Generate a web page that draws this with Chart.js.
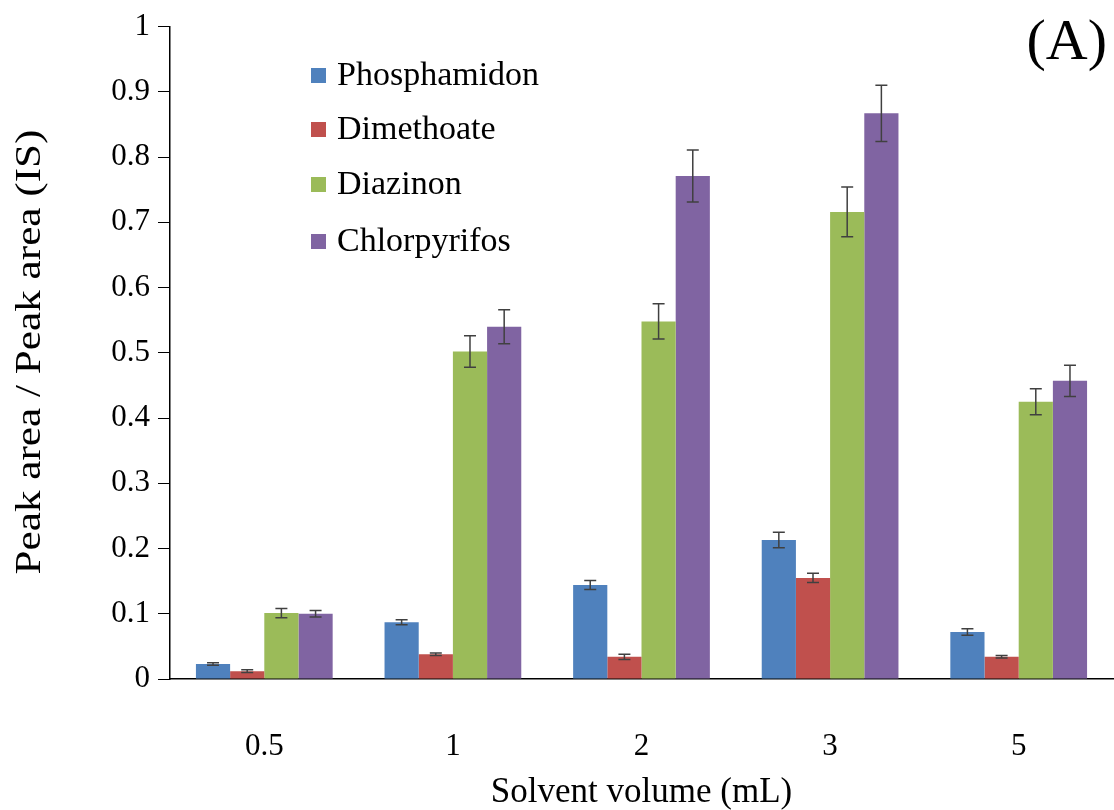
<!DOCTYPE html>
<html>
<head>
<meta charset="utf-8">
<script src="https://cdn.jsdelivr.net/npm/chart.js@4.4.1/dist/chart.umd.min.js"></script>
<style>
  html, body { margin: 0; padding: 0; background: #fff; }
</style>
</head>
<body>
<canvas id="chart" width="1114" height="810"></canvas>
<script>
const categories = ['0.5', '1', '2', '3', '5'];
const seriesNames = ['Phosphamidon', 'Dimethoate', 'Diazinon', 'Chlorpyrifos'];
const seriesColors = ['#4F81BD', '#C0504D', '#9BBB59', '#8064A2'];

const phosphamidon = [0.023, 0.087, 0.144, 0.213, 0.072];
const dimethoate = [0.012, 0.038, 0.034, 0.155, 0.034];
const diazinon = [0.101, 0.502, 0.548, 0.716, 0.425];
const chlorpyrifos = [0.100, 0.540, 0.771, 0.867, 0.457];

const phosphamidonErr = [0.002, 0.004, 0.007, 0.012, 0.005];
const dimethoateErr = [0.002, 0.002, 0.004, 0.007, 0.002];
const diazinonErr = [0.007, 0.024, 0.027, 0.038, 0.020];
const chlorpyrifosErr = [0.005, 0.026, 0.040, 0.043, 0.024];

const yTickLabels = ['0', '0.1', '0.2', '0.3', '0.4', '0.5', '0.6', '0.7', '0.8', '0.9', '1'];

const values = [phosphamidon, dimethoate, diazinon, chlorpyrifos];
const errors = [phosphamidonErr, dimethoateErr, diazinonErr, chlorpyrifosErr];

const serif = "'Liberation Serif', 'Times New Roman', serif";

const errorBars = {
  id: 'errorBars',
  afterDatasetsDraw(chart) {
    const {ctx} = chart;
    const y = chart.scales.y;
    ctx.save();
    ctx.strokeStyle = '#404040';
    ctx.lineWidth = 1.5;
    chart.data.datasets.forEach((ds, i) => {
      const meta = chart.getDatasetMeta(i);
      meta.data.forEach((bar, j) => {
        const v = ds.data[j], e = ds.errors[j];
        const top = y.getPixelForValue(v + e);
        const bot = y.getPixelForValue(v - e);
        ctx.beginPath();
        ctx.moveTo(bar.x, top); ctx.lineTo(bar.x, bot);
        ctx.moveTo(bar.x - 6, top); ctx.lineTo(bar.x + 6, top);
        ctx.moveTo(bar.x - 6, bot); ctx.lineTo(bar.x + 6, bot);
        ctx.stroke();
      });
    });
    ctx.restore();
  }
};

// legend inside the plot, the "(A)" tag and the (stretched) y title
const extras = {
  id: 'extras',
  afterDraw(chart) {
    const {ctx} = chart;
    ctx.save();
    ctx.textBaseline = 'middle';
    ctx.font = '34px ' + serif;
    const rows = [75, 129, 184, 241];
    seriesNames.forEach((name, i) => {
      ctx.fillStyle = seriesColors[i];
      ctx.fillRect(311, rows[i] - 7, 15, 15);
      ctx.fillStyle = '#000';
      ctx.textAlign = 'left';
      ctx.fillText(name, 337, rows[i] + 1);
    });
    ctx.font = '58px ' + serif;
    ctx.textAlign = 'right';
    ctx.fillText('(A)', 1107, 44);

    ctx.translate(31, 352);
    ctx.rotate(-Math.PI / 2);
    ctx.scale(1.2, 1);
    ctx.font = '36px ' + serif;
    ctx.textAlign = 'center';
    ctx.fillText('Peak area / Peak area (IS)', 0, 0);
    ctx.restore();
  }
};

new Chart(document.getElementById('chart'), {
  type: 'bar',
  data: {
    labels: categories,
    datasets: seriesNames.map((name, i) => ({
      label: name,
      data: values[i],
      errors: errors[i],
      backgroundColor: seriesColors[i],
      borderWidth: 0,
      categoryPercentage: 0.725,
      barPercentage: 1
    }))
  },
  options: {
    responsive: false,
    animation: false,
    layout: { padding: { top: 25, right: 1, left: 0, bottom: 0 } },
    plugins: { legend: { display: false }, tooltip: { enabled: false } },
    scales: {
      x: {
        grid: { display: false, drawTicks: false },
        border: { color: '#000', width: 1.5 },
        ticks: { color: '#000', padding: 49, font: { family: serif, size: 31 } },
        title: {
          display: true, text: 'Solvent volume (mL)', color: '#000',
          font: { family: serif, size: 35 }, padding: { top: 0, bottom: -4 }
        },
        afterFit(scale) { scale.height = 131; }
      },
      y: {
        min: 0, max: 1,
        grid: { drawOnChartArea: false, drawTicks: true, tickLength: 12, color: '#000' },
        border: { color: '#000', width: 1.5 },
        ticks: {
          stepSize: 0.1, color: '#000', padding: 8,
          font: { family: serif, size: 31 },
          callback: (v, i) => yTickLabels[i]
        },
        afterFit(scale) { scale.width = 170; }
      }
    }
  },
  plugins: [errorBars, extras]
});
</script>
</body>
</html>
